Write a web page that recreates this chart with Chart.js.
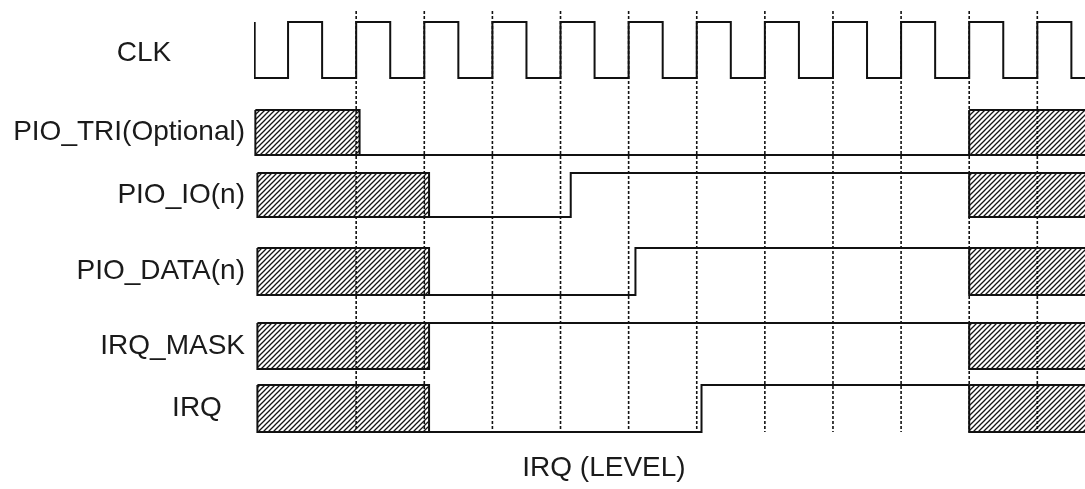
<!DOCTYPE html>
<html>
<head>
<meta charset="utf-8">
<script src="https://cdn.jsdelivr.net/npm/chart.js@4/dist/chart.umd.min.js"></script>
<style>
  html, body { margin: 0; padding: 0; background: #ffffff; }
  #marco { width: 1085px; height: 489px; position: relative; }
</style>
</head>
<body>
<div id="marco"><canvas id="diagrama"></canvas></div>
<script>
/* Diagrama de tiempos IRQ (LEVEL) — tiempo en periodos de reloj */

const titulo = 'IRQ (LEVEL)';

// nombres de las señales (fila 0 = reloj)
const senales = ['CLK', 'PIO_TRI(Optional)', 'PIO_IO(n)', 'PIO_DATA(n)', 'IRQ_MASK', 'IRQ'];
// nivel alto / bajo de cada fila (unidades del eje vertical, invertido)
const nivelAlto = [2.2, 11.0, 17.3, 24.8, 32.3, 38.5];
const nivelBajo = [7.8, 15.5, 21.7, 29.5, 36.9, 43.2];

// reloj: instantes de cambio y nivel tras el cambio (1 = alto)
const clkTiempos = [-0.49, -0.49, 0, 0.5, 1, 1.5, 2, 2.5, 3, 3.5, 4, 4.5, 5, 5.5, 6, 6.5, 7, 7.5, 8, 8.5, 9, 9.5, 10, 10.5, 11, 11.5, 11.7];
const clkNiveles = [1, 0, 1, 0, 1, 0, 1, 0, 1, 0, 1, 0, 1, 0, 1, 0, 1, 0, 1, 0, 1, 0, 1, 0, 1, 0, 0];

// resto de señales: tramos definidos fuera de las zonas rayadas
const triTiempos = [1.05, 10.0];
const triNiveles = [0, 0];
const ioTiempos = [2.07, 4.15, 10.0];
const ioNiveles = [0, 1, 1];
const dataTiempos = [2.07, 5.1, 10.0];
const dataNiveles = [0, 1, 1];
const maskTiempos = [2.07, 10.0];
const maskNiveles = [1, 1];
const irqTiempos = [2.07, 6.07, 10.0];
const irqNiveles = [0, 1, 1];

// zonas indefinidas (rayadas) por fila: [inicio, fin]
const zonasTri = [[-0.48, 1.05], [10.0, 11.8]];
const zonasIo = [[-0.45, 2.07], [10.0, 11.8]];
const zonasData = [[-0.45, 2.07], [10.0, 11.8]];
const zonasMask = [[-0.45, 2.07], [10.0, 11.8]];
const zonasIrq = [[-0.45, 2.07], [10.0, 11.8]];

// flancos de subida marcados con línea discontinua
const marcas = [1, 2, 3, 4, 5, 6, 7, 8, 9, 10, 11];
const marcaDesde = 1.1;
const marcaHasta = 43.2;

const FUENTE = '28px "Liberation Sans", Arial, sans-serif';
const TINTA = '#111111';

function crearRayado() {
  const c = document.createElement('canvas');
  c.width = 5;
  c.height = 5;
  const g = c.getContext('2d');
  g.strokeStyle = '#151515';
  g.lineWidth = 1.3;
  g.beginPath();
  g.moveTo(-1, 6); g.lineTo(6, -1);
  g.moveTo(-1, 1); g.lineTo(1, -1);
  g.moveTo(4, 6); g.lineTo(6, 4);
  g.stroke();
  return g.createPattern(c, 'repeat');
}

function puntosSenal(fila, tiempos, niveles) {
  return tiempos.map((t, i) => ({ x: t, y: niveles[i] ? nivelAlto[fila] : nivelBajo[fila] }));
}

function puntosZona(fila, zona) {
  const [a, b] = zona;
  const arriba = nivelAlto[fila];
  const abajo = nivelBajo[fila];
  return [
    { x: a, y: arriba }, { x: b, y: arriba },
    { x: b, y: abajo }, { x: a, y: abajo }, { x: a, y: arriba }
  ];
}

const rayado = crearRayado();
const conjuntos = [];

// líneas discontinuas verticales
const puntosMarcas = [];
marcas.forEach(t => {
  puntosMarcas.push({ x: t, y: marcaDesde }, { x: t, y: marcaHasta }, { x: t, y: null });
});
conjuntos.push({
  label: 'marcas',
  data: puntosMarcas,
  borderColor: '#111111',
  borderWidth: 1.6,
  borderDash: [3, 2],
  pointRadius: 0,
  spanGaps: false,
  order: 0
});

// señales
const trazos = [
  [0, clkTiempos, clkNiveles],
  [1, triTiempos, triNiveles],
  [2, ioTiempos, ioNiveles],
  [3, dataTiempos, dataNiveles],
  [4, maskTiempos, maskNiveles],
  [5, irqTiempos, irqNiveles]
];
trazos.forEach(([fila, tiempos, niveles]) => {
  conjuntos.push({
    label: senales[fila],
    data: puntosSenal(fila, tiempos, niveles),
    borderColor: TINTA,
    borderWidth: 2,
    stepped: 'before',
    pointRadius: 0,
    order: 1
  });
});

// zonas rayadas
const zonas = [[1, zonasTri], [2, zonasIo], [3, zonasData], [4, zonasMask], [5, zonasIrq]];
zonas.forEach(([fila, lista]) => {
  lista.forEach(z => {
    conjuntos.push({
      label: senales[fila] + ' X',
      data: puntosZona(fila, z),
      borderColor: TINTA,
      borderWidth: 2,
      backgroundColor: rayado,
      fill: 'shape',
      pointRadius: 0,
      tension: 0,
      order: 2
    });
  });
});

// nombres de señales y título dibujados como texto
const rotulos = {
  id: 'rotulos',
  afterDraw(chart) {
    const ctx = chart.ctx;
    const ejeY = chart.scales.y;
    ctx.save();
    ctx.font = FUENTE;
    ctx.fillStyle = '#1a1a1a';
    ctx.textBaseline = 'middle';
    senales.forEach((nombre, fila) => {
      const y = ejeY.getPixelForValue((nivelAlto[fila] + nivelBajo[fila]) / 2);
      if (nombre === 'CLK') {
        ctx.textAlign = 'center';
        ctx.fillText(nombre, 144, y + 3);
      } else if (nombre === 'IRQ') {
        ctx.textAlign = 'center';
        ctx.fillText(nombre, 197, y);
      } else {
        ctx.textAlign = 'right';
        ctx.fillText(nombre, 245, y);
      }
    });
    ctx.textAlign = 'center';
    ctx.fillText(titulo, 604, 468);
    ctx.restore();
  }
};

new Chart(document.getElementById('diagrama'), {
  type: 'line',
  data: { datasets: conjuntos },
  options: {
    responsive: true,
    maintainAspectRatio: false,
    animation: false,
    layout: { padding: { left: 254, right: 0, top: 0, bottom: 0 } },
    plugins: {
      legend: { display: false },
      tooltip: { enabled: false },
      title: { display: false }
    },
    scales: {
      x: { type: 'linear', min: -0.5, max: 11.7, display: false },
      y: { type: 'linear', min: 0, max: 48.9, reverse: true, display: false }
    }
  },
  plugins: [rotulos]
});
</script>
</body>
</html>
